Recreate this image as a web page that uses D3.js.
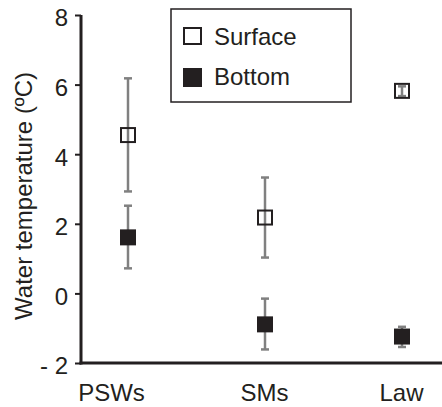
<!DOCTYPE html>
<html><head><meta charset="utf-8">
<script src="https://cdn.jsdelivr.net/npm/d3@7"></script>
<style>body{margin:0;background:#fff}svg{display:block}text{font-family:"Liberation Sans",Arial,sans-serif;fill:#231f20}</style>
</head><body>
<svg id="c" width="442" height="407"></svg>
<script>
const categories = ["PSWs", "SMs", "Law"];
const surfaceMean = [4.55, 2.18, 5.82];
const surfaceLow = [2.93, 1.03, 5.67];
const surfaceHigh = [6.18, 3.33, 5.95];
const bottomMean = [1.61, -0.89, -1.24];
const bottomLow = [0.72, -1.61, -1.54];
const bottomHigh = [2.52, -0.15, -0.96];
const yTicks = [-2, 0, 2, 4, 6, 8];

const svg = d3.select("#c");
const dark = "#231f20", grey = "#808080";
const y = d3.scaleLinear().domain([-2, 8]).range([363, 15]);
const x = d3.scalePoint().domain(categories).range([128, 402]);

// error bars
function errBars(mean, lo, hi) {
  const g = svg.append("g");
  categories.forEach((c, i) => {
    const cx = x(c);
    g.append("line").attr("x1", cx).attr("x2", cx).attr("y1", y(lo[i])).attr("y2", y(hi[i]))
      .attr("stroke", grey).attr("stroke-width", 2.5);
    [lo[i], hi[i]].forEach(v => g.append("line").attr("x1", cx - 4).attr("x2", cx + 4)
      .attr("y1", y(v)).attr("y2", y(v)).attr("stroke", grey).attr("stroke-width", 2.5));
  });
}
errBars(surfaceMean, surfaceLow, surfaceHigh);
errBars(bottomMean, bottomLow, bottomHigh);

const s = 16;
svg.append("g").selectAll("rect").data(surfaceMean).join("rect")
  .attr("x", (d, i) => x(categories[i]) - (s - 2) / 2).attr("y", d => y(d) - (s - 2) / 2)
  .attr("width", s - 2).attr("height", s - 2)
  .attr("fill", "none").attr("stroke", dark).attr("stroke-width", 2);
svg.append("g").selectAll("rect").data(bottomMean).join("rect")
  .attr("x", (d, i) => x(categories[i]) - s / 2).attr("y", d => y(d) - s / 2)
  .attr("width", s).attr("height", s).attr("fill", dark);

// axes
const yAxis = svg.append("g").attr("transform", "translate(81,0)")
  .call(d3.axisLeft(y).tickValues(yTicks).tickSize(6).tickPadding(7).tickFormat(d => d < 0 ? "- " + Math.abs(d) : d));
yAxis.select(".domain").remove();
yAxis.selectAll(".tick line").attr("stroke", dark).attr("stroke-width", 2);
yAxis.selectAll("text").attr("font-size", 24).attr("dy", "0.45em").style("fill", dark);
svg.append("line").attr("x1", 81).attr("x2", 81).attr("y1", 15).attr("y2", 364.5)
  .attr("stroke", dark).attr("stroke-width", 3);
svg.append("line").attr("x1", 79.5).attr("x2", 442).attr("y1", 363).attr("y2", 363)
  .attr("stroke", dark).attr("stroke-width", 3);

const xAxis = svg.append("g").attr("transform", "translate(0,363)")
  .call(d3.axisBottom(x).tickSize(0).tickPadding(21));
xAxis.select(".domain").remove();
xAxis.selectAll("text").attr("font-size", 24).style("fill", dark)
  .attr("dx", (d, i) => i === 0 ? -17 : -1);

svg.append("text").attr("transform", "translate(32,196) rotate(-90)")
  .attr("text-anchor", "middle").attr("font-size", 24).text("Water temperature (ºC)");

// legend
svg.append("rect").attr("x", 171).attr("y", 9).attr("width", 180).attr("height", 93)
  .attr("fill", "#fff").attr("stroke", dark).attr("stroke-width", 1.5);
svg.append("rect").attr("x", 184).attr("y", 28).attr("width", 17).attr("height", 16)
  .attr("fill", "none").attr("stroke", dark).attr("stroke-width", 2);
svg.append("rect").attr("x", 183).attr("y", 68).attr("width", 19).attr("height", 19).attr("fill", dark);
svg.append("text").attr("x", 214).attr("y", 45).attr("font-size", 24).text("Surface");
svg.append("text").attr("x", 214).attr("y", 85).attr("font-size", 24).text("Bottom");
</script>
</body></html>
